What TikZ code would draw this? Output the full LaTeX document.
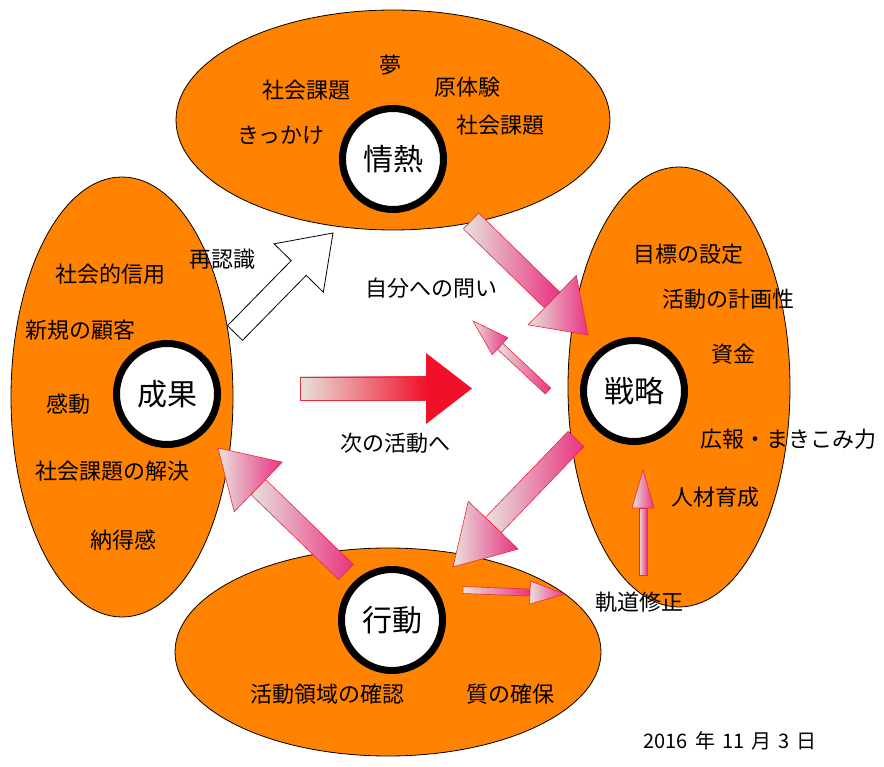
\documentclass[tikz,border=0pt]{standalone}
\usepackage{fontspec}
\setmainfont{Noto Sans CJK JP}
\usetikzlibrary{calc,shapes.geometric}
\definecolor{orng}{RGB}{255,130,0}
\definecolor{arlight}{RGB}{232,226,220}
\definecolor{arpink}{RGB}{233,50,130}
\definecolor{arred}{RGB}{235,40,60}
\definecolor{arsalmon}{RGB}{240,160,120}
\definecolor{bigred}{RGB}{240,16,42}
\newcommand\blkarrow[6]{%
  \coordinate (ba) at ($(#2)!#5!(#1)$);
  \path[#6] ($(#1)!#3!90:(#2)$) -- ($(ba)!#3!-90:(#1)$) -- ($(ba)!#3!90:(#1)$) -- ($(#1)!#3!-90:(#2)$) -- cycle;
  \path[#6] ($(ba)!#4!-90:(#1)$) -- (#2) -- ($(ba)!#4!90:(#1)$) -- cycle;
}
\newcommand\blkone[6]{%
  \coordinate (ba) at ($(#2)!#5!(#1)$);
  \path[#6] ($(#1)!#3!90:(#2)$) -- ($(ba)!#3!-90:(#1)$) -- ($(ba)!#4!-90:(#1)$) -- (#2)
     -- ($(ba)!#4!90:(#1)$) -- ($(ba)!#3!90:(#1)$) -- ($(#1)!#3!-90:(#2)$) -- cycle;
}
\tikzset{
  ell/.style={ellipse, draw=black, line width=0.8pt, fill=orng, inner sep=0pt},
  hub/.style={circle, draw=black, line width=7pt, fill=white, minimum size=101pt, inner sep=0pt, font=\fontsize{30}{30}\selectfont},
  lbl/.style={font=\fontsize{22}{22}\selectfont, inner sep=0pt},
  pk/.style={draw=arred, line width=0.6pt, left color=arlight, right color=arpink},
  wht/.style={draw=black, line width=0.8pt, fill=white},
}
\begin{document}
\begin{tikzpicture}[x=1pt,y=-1pt]
\path[use as bounding box, fill=white] (0,0) rectangle (884,767);
% ellipses
\node[ell, minimum width=434pt, minimum height=220pt] (etop) at (393,120) {};
\node[ell, minimum width=222pt, minimum height=440pt] (eleft) at (122,397) {};
\node[ell, minimum width=222pt, minimum height=440pt] (eright) at (679,387) {};
\node[ell, minimum width=426pt, minimum height=208pt] (ebot) at (388,652) {};
% hubs
\node[hub] (jonetsu) at (393,159) {情熱};
\node[hub] (seika) at (167,394) {成果};
\node[hub] (senryaku) at (634,391) {戦略};
\node[hub] (koudou) at (392,620) {行動};
% arrow end points
\coordinate (a1t) at (235,333); \coordinate (a1h) at (333,233);
\coordinate (a2t) at (471,221); \coordinate (a2h) at (588,335);
\coordinate (a3t) at (576,439); \coordinate (a3h) at (453,567);
\coordinate (a4t) at (346,572); \coordinate (a4h) at (218,448);
\coordinate (a5t) at (548,391); \coordinate (a5h) at (473,321);
\coordinate (a6t) at (463,590); \coordinate (a6h) at (565,594);
\coordinate (a7t) at (643,575); \coordinate (a7h) at (643,470);
% arrows
\blkone{a1t}{a1h}{10.5pt}{34.5pt}{49pt}{wht}
\blkarrow{a2t}{a2h}{11pt}{34.5pt}{50pt}{pk}
\blkarrow{a3t}{a3h}{11pt}{34.5pt}{58pt}{pk}
\blkarrow{a4t}{a4h}{10.5pt}{34.5pt}{56pt}{pk}
\blkarrow{a5t}{a5h}{4pt}{11.5pt}{37pt}{pk}
\blkarrow{a6t}{a6h}{3.5pt}{11.5pt}{35pt}{pk}
\blkarrow{a7t}{a7h}{4pt}{11pt}{38pt}{pk}
% big red arrow
\coordinate (rt) at (300,388.5); \coordinate (rh) at (472,388.5);
\path[draw=arred, line width=0.6pt, left color=arlight, middle color=arsalmon, right color=bigred]
  (300,377) rectangle (427,400);
\path[fill=bigred] (426,353) -- (rh) -- (426,424) -- cycle;
% top texts
\node[lbl] (t1) at (390,65) {夢};
\node[lbl] (t2) at (306,90) {社会課題};
\node[lbl] (t3) at (467,87) {原体験};
\node[lbl] (t4) at (500,125) {社会課題};
\node[lbl] (t5) at (281,135) {きっかけ};
% left texts
\node[lbl] (l1) at (110,274) {社会的信用};
\node[lbl] (l2) at (80,330) {新規の顧客};
\node[lbl] (l3) at (68,404) {感動};
\node[lbl] (l4) at (112,471) {社会課題の解決};
\node[lbl] (l5) at (123,540) {納得感};
\node[lbl] (l6) at (222,259) {再認識};
% right texts
\node[lbl] (r1) at (688,254) {目標の設定};
\node[lbl] (r2) at (728,299) {活動の計画性};
\node[lbl] (r3) at (733,354) {資金};
\node[lbl] (r4) at (788,439) {広報・まきこみ力};
\node[lbl] (r5) at (715,497) {人材育成};
\node[lbl] (r6) at (639,602) {軌道修正};
% bottom texts
\node[lbl] (b1) at (327,694) {活動領域の確認};
\node[lbl] (b2) at (510,694) {質の確保};
% middle texts
\node[lbl] (m1) at (431,288) {自分への問い};
\node[lbl] (m2) at (395,443) {次の活動へ};
% date
\node[font=\fontsize{20}{20}\selectfont, inner sep=0pt] (date) at (730,741) {2016\hspace{7pt}年\hspace{7pt}11\hspace{7pt}月\hspace{7pt}3\hspace{7pt}日};
\end{tikzpicture}
\end{document}
